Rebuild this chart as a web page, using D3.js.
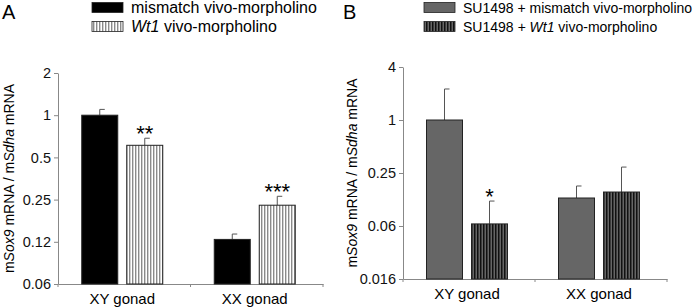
<!DOCTYPE html>
<html lang="en">
<head>
<meta charset="utf-8">
<title>Sox9 mRNA chart</title>
<script src="https://d3js.org/d3.v7.min.js"></script>
<style>
  body { margin: 0; background: #fff; }
  svg { font-family: "Liberation Sans", Arial, sans-serif; }
  .axis path, .axis line { stroke: #888; }
  .axis text { font-size: 14.5px; fill: #111; }
</style>
</head>
<body>
<svg id="chart" width="700" height="308"></svg>
<script>
// groups on the x axis
const groups = ["XY gonad", "XX gonad"];

// panel A: mean and error-bar top
const meanA_mismatch = [1.0, 0.13];
const errA_mismatch = [1.10, 0.142];
const meanA_wt1 = [0.61, 0.228];
const errA_wt1 = [0.685, 0.264];
const starsA_wt1 = ["**", "***"];
const ticksA = [2, 1, 0.5, 0.25, 0.125, 0.0625];
const tickLabelsA = ["2", "1", "0.5", "0.25", "0.12", "0.06"];

// panel B
const meanB_mismatch = [1.0, 0.130];
const errB_mismatch = [2.25, 0.178];
const meanB_wt1 = [0.066, 0.152];
const errB_wt1 = [0.120, 0.292];
const starsB_wt1 = ["*", ""];
const ticksB = [4, 1, 0.25, 0.0625, 0.015625];
const tickLabelsB = ["4", "1", "0.25", "0.06", "0.016"];

const svg = d3.select("#chart");
const defs = svg.append("defs");

// striped fills
const pA = defs.append("pattern").attr("id", "stripeA")
  .attr("patternUnits", "userSpaceOnUse").attr("width", 3).attr("height", 10);
pA.append("rect").attr("width", 3).attr("height", 10).attr("fill", "#fff");
pA.append("rect").attr("x", 0).attr("width", 1.4).attr("height", 10).attr("fill", "#8a8a8a");

const pB = defs.append("pattern").attr("id", "stripeB")
  .attr("patternUnits", "userSpaceOnUse").attr("width", 3).attr("height", 10);
pB.append("rect").attr("width", 3).attr("height", 10).attr("fill", "#666");
pB.append("rect").attr("x", 0).attr("width", 1.5).attr("height", 10).attr("fill", "#111");

function drawPanel(opt) {
  const g = svg.append("g");
  const x = d3.scaleBand().domain(groups).range([opt.x0, opt.x1]);
  const y = d3.scaleLog().base(2).domain(opt.domain).range([opt.yBottom, opt.yTop]);
  const bw = 36, gap = 9;

  g.append("g").attr("class", "axis")
    .attr("transform", `translate(${opt.x0},0)`)
    .call(d3.axisLeft(y).tickValues(opt.ticks).tickFormat((d, i) => opt.labels[i]).tickSize(4).tickSizeOuter(0));

  g.append("g").attr("class", "axis")
    .attr("transform", `translate(0,${opt.yBottom})`)
    .call(d3.axisBottom(x).tickValues([]).tickSizeOuter(0));
  // small ticks between groups
  g.selectAll(".gtick").data([opt.x0, x(groups[1]), opt.x1]).enter().append("line")
    .attr("x1", d => d).attr("x2", d => d)
    .attr("y1", opt.yBottom).attr("y2", opt.yBottom + 3)
    .attr("stroke", "#888");

  g.selectAll(".xlab").data(groups).enter().append("text")
    .attr("x", d => x(d) + x.bandwidth() / 2 - 2)
    .attr("y", opt.yBottom + 20)
    .attr("text-anchor", "middle").attr("font-size", 15)
    .text(d => d);

  const series = [
    { mean: opt.m1, err: opt.e1, fill: opt.fill1, off: -gap / 2 - bw, stars: ["", ""] },
    { mean: opt.m2, err: opt.e2, fill: opt.fill2, off: gap / 2, stars: opt.stars }
  ];
  series.forEach(s => {
    groups.forEach((grp, i) => {
      const cx = x(grp) + x.bandwidth() / 2 - 2 + s.off;
      g.append("line")
        .attr("x1", cx + bw / 2).attr("x2", cx + bw / 2)
        .attr("y1", y(s.mean[i])).attr("y2", y(s.err[i]))
        .attr("stroke", "#555").attr("stroke-width", 1);
      g.append("line")
        .attr("x1", cx + bw / 2).attr("x2", cx + bw / 2 + 5)
        .attr("y1", y(s.err[i])).attr("y2", y(s.err[i]))
        .attr("stroke", "#555").attr("stroke-width", 1);
      g.append("rect")
        .attr("x", cx).attr("width", bw)
        .attr("y", y(s.mean[i])).attr("height", opt.yBottom - y(s.mean[i]))
        .attr("fill", s.fill).attr("stroke", "#222").attr("stroke-width", 1);
      if (s.stars[i]) {
        g.append("text")
          .attr("x", cx + bw / 2).attr("y", y(s.err[i]) + 3)
          .attr("text-anchor", "middle").attr("font-size", 22)
          .text(s.stars[i]);
      }
    });
  });

  // y-axis title
  const yt = g.append("text")
    .attr("transform", `translate(${opt.titleX},${(opt.yTop + opt.yBottom) / 2}) rotate(-90)`)
    .attr("text-anchor", "middle").attr("font-size", 14);
  yt.append("tspan").text("m");
  yt.append("tspan").attr("font-style", "italic").text("Sox9");
  yt.append("tspan").text(" mRNA / m");
  yt.append("tspan").attr("font-style", "italic").text("Sdha");
  yt.append("tspan").text(" mRNA");

  // panel letter
  g.append("text").attr("x", opt.letterX).attr("y", 19)
    .attr("font-size", 20).text(opt.letter);

  // legend
  opt.legend.forEach((lab, i) => {
    g.append("rect")
      .attr("x", opt.legX).attr("y", 2.5 + i * 19).attr("width", 31).attr("height", 10)
      .attr("fill", i === 0 ? opt.fill1 : opt.fill2).attr("stroke", "#222").attr("stroke-width", 0.8);
    const t = g.append("text").attr("x", opt.legX + 39).attr("y", 13 + i * 19).attr("font-size", opt.legSize);
    lab.forEach(part => t.append("tspan").attr("font-style", part[1] ? "italic" : "normal").text(part[0]));
  });
}

drawPanel({
  x0: 58, x1: 323, yTop: 73, yBottom: 284, domain: [0.0625, 2],
  ticks: ticksA, labels: tickLabelsA,
  m1: meanA_mismatch, e1: errA_mismatch, m2: meanA_wt1, e2: errA_wt1,
  fill1: "#000", fill2: "url(#stripeA)", stars: starsA_wt1,
  titleX: 14, letter: "A", letterX: 2, legX: 92, legSize: 16,
  legend: [[["mismatch vivo-morpholino", false]], [["Wt1", true], [" vivo-morpholino", false]]]
});

drawPanel({
  x0: 403, x1: 667, yTop: 67, yBottom: 279, domain: [0.015625, 4],
  ticks: ticksB, labels: tickLabelsB,
  m1: meanB_mismatch, e1: errB_mismatch, m2: meanB_wt1, e2: errB_wt1,
  fill1: "#666", fill2: "url(#stripeB)", stars: starsB_wt1,
  titleX: 357, letter: "B", letterX: 343, legX: 424, legSize: 14,
  legend: [[["SU1498 + mismatch vivo-morpholino", false]], [["SU1498 ", false], ["+ Wt1", true], [" vivo-morpholino", false]]]
});
</script>
</body>
</html>
